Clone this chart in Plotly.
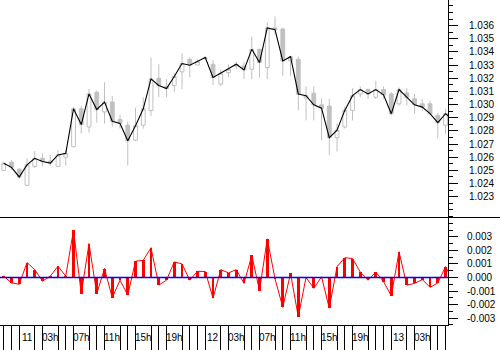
import plotly.graph_objects as go
import pandas as pd

# ---------------- data (hourly bars) ----------------
start_time = "2005-01-10 21:00"
opens = [1.02500, 1.02562, 1.02509, 1.02387, 1.02530, 1.02592, 1.02571, 1.02530, 1.02600, 1.02680,
         1.02968, 1.02830, 1.03094, 1.02944, 1.03020, 1.02886, 1.02843, 1.02730, 1.02843, 1.02955,
         1.03200, 1.03139, 1.03144, 1.03249, 1.03344, 1.03301, 1.03350, 1.03307, 1.03156, 1.03244,
         1.03294, 1.03294, 1.03269, 1.03420, 1.03282, 1.03583, 1.03575, 1.03332, 1.03344, 1.03050,
         1.03086, 1.02998, 1.02989, 1.02748, 1.02830, 1.02956, 1.03081, 1.03114, 1.03056, 1.03114,
         1.03081, 1.03006, 1.03089, 1.03044, 1.03006, 1.03006, 1.02918, 1.02843, 1.02931]
highs = [1.02560, 1.02577, 1.02515, 1.02592, 1.02647, 1.02630, 1.02617, 1.02655, 1.02655, 1.02981,
         1.02989, 1.03119, 1.03106, 1.03169, 1.03064, 1.02923, 1.02871, 1.02976, 1.03056, 1.03357,
         1.03307, 1.03194, 1.03239, 1.03390, 1.03357, 1.03344, 1.03369, 1.03339, 1.03269, 1.03307,
         1.03329, 1.03322, 1.03515, 1.03425, 1.03625, 1.03670, 1.03585, 1.03369, 1.03367, 1.03139,
         1.03139, 1.03044, 1.03044, 1.02856, 1.02983, 1.03124, 1.03139, 1.03124, 1.03181, 1.03139,
         1.03094, 1.03131, 1.03124, 1.03081, 1.03044, 1.03028, 1.02938, 1.02968, 1.02950]
lows = [1.02495, 1.02502, 1.02434, 1.02380, 1.02517, 1.02532, 1.02532, 1.02525, 1.02537, 1.02675,
        1.02780, 1.02788, 1.02863, 1.02856, 1.02831, 1.02818, 1.02537, 1.02720, 1.02818, 1.02913,
        1.03056, 1.03058, 1.03094, 1.03119, 1.03207, 1.03301, 1.03344, 1.03149, 1.03140, 1.03207,
        1.03269, 1.03194, 1.03194, 1.03207, 1.03194, 1.03532, 1.03219, 1.03219, 1.02956, 1.02880,
        1.02880, 1.02730, 1.02617, 1.02643, 1.02818, 1.02880, 1.03056, 1.03044, 1.03044, 1.03044,
        1.02918, 1.02993, 1.02993, 1.02931, 1.02953, 1.02923, 1.02743, 1.02780, 1.02850]
closes = [1.02555, 1.02523, 1.02450, 1.02542, 1.02592, 1.02568, 1.02555, 1.02617, 1.02630, 1.02968,
          1.02848, 1.03081, 1.02963, 1.03019, 1.02873, 1.02856, 1.02725, 1.02840, 1.02968, 1.03195,
          1.03145, 1.03122, 1.03214, 1.03312, 1.03299, 1.03327, 1.03357, 1.03207, 1.03239, 1.03269,
          1.03307, 1.03264, 1.03420, 1.03320, 1.03583, 1.03570, 1.03332, 1.03364, 1.03081, 1.03068,
          1.02998, 1.02973, 1.02748, 1.02805, 1.02956, 1.03068, 1.03114, 1.03081, 1.03114, 1.03074,
          1.02931, 1.03114, 1.03056, 1.02998, 1.02981, 1.02931, 1.02863, 1.02931, 1.02880]
momentum = [0.0001, -0.0004, -0.0005, 0.0011, 0.00058, -0.00027, 0.0001, 0.00083, 0.0001, 0.0035,
            -0.0012, 0.0025, -0.0012, 0.00066, -0.0015, -0.0002, -0.0013, 0.0012, 0.00127, 0.0022,
            -0.00056, -0.0002, 0.00115, 0.0010, -0.0002, 0.00046, 0.00044, -0.00153, 0.00058, 0.00034,
            0.00058, -0.00044, 0.00163, -0.00097, 0.00285, -0.0001, -0.0022, 0.0003, -0.0029, 0.0,
            -0.0008, 0.00005, -0.00226, 0.0008, 0.00146, 0.0014, 0.0004, -0.0002, 0.0004, -0.0003,
            -0.00136, 0.0019, -0.00056, -0.00044, -0.00015, -0.00073, -0.0004, 0.0008, -0.0003]

price_ticks = [1.023, 1.024, 1.025, 1.026, 1.027, 1.028, 1.029, 1.030, 1.031, 1.032, 1.033, 1.034, 1.035, 1.036]
price_labels = [f"{v:.3f}" for v in price_ticks]
mom_ticks = [-0.003, -0.002, -0.001, 0.0, 0.001, 0.002, 0.003]
mom_labels = ["-0.003", "-0.002", "-0.001", "0.000", "0.001", "0.002", "0.003"]

label_times = ["2005-01-11 00:00", "2005-01-11 03:00", "2005-01-11 07:00", "2005-01-11 11:00",
               "2005-01-11 15:00", "2005-01-11 19:00", "2005-01-12 00:00", "2005-01-12 03:00",
               "2005-01-12 07:00", "2005-01-12 11:00", "2005-01-12 15:00", "2005-01-12 19:00",
               "2005-01-13 00:00", "2005-01-13 03:00"]
label_texts = ["11", "03h", "07h", "11h", "15h", "19h", "12", "03h", "07h", "11h", "15h", "19h", "13", "03h"]

x_range = ["2005-01-10 20:31", "2005-01-13 06:19"]
price_range = [1.02142, 1.03795]
mom_range = [-0.003526, 0.00443]

# ---------------- figure ----------------
times = pd.date_range(start_time, periods=len(closes), freq="h")
hour_ticks = pd.date_range("2005-01-10 20:00", "2005-01-13 07:00", freq="h")
label_idx = pd.to_datetime(label_times)
label_set = set(label_idx)
plain_ticks = [t for t in hour_ticks if t not in label_set]

GREY = "#c0c0c0"
FONT = dict(family="Liberation Sans, Arial, sans-serif", size=10, color="black")

fig = go.Figure()
fig.add_trace(go.Candlestick(
    x=times, open=opens, high=highs, low=lows, close=closes,
    increasing=dict(line=dict(color=GREY, width=1), fillcolor="white"),
    decreasing=dict(line=dict(color=GREY, width=1), fillcolor=GREY),
    whiskerwidth=0, xaxis="x", yaxis="y", showlegend=False, hoverinfo="skip"))
fig.add_trace(go.Scatter(x=times, y=closes, mode="lines", line=dict(color="black", width=1.1),
                         xaxis="x", yaxis="y", showlegend=False, hoverinfo="skip"))
fig.add_trace(go.Bar(x=times, y=momentum, width=0.36 * 3600 * 1000, marker=dict(color="red", line=dict(width=0)),
                     xaxis="x", yaxis="y2", showlegend=False, hoverinfo="skip"))
fig.add_trace(go.Scatter(x=times, y=momentum, mode="lines", line=dict(color="red", width=1),
                         xaxis="x", yaxis="y2", showlegend=False, hoverinfo="skip"))

top_lo = 130 / 350
bot_lo = 21 / 350
xdom = 448 / 500

annotations = [dict(x=t, y=(350 - 341.5) / 350, xref="x", yref="paper", text=s, showarrow=False,
                    xanchor="center", yanchor="middle", font=FONT)
               for t, s in zip(label_times, label_texts)]

fig.update_layout(
    width=500, height=350, margin=dict(l=0, r=0, t=0, b=0),
    paper_bgcolor="white", plot_bgcolor="white", font=FONT,
    xaxis=dict(domain=[0, xdom], anchor="y2", range=x_range, type="date",
               rangeslider=dict(visible=False), showgrid=False, zeroline=False,
               showline=True, linecolor="black", linewidth=1,
               tickmode="array", tickvals=plain_ticks, ticks="outside", ticklen=25,
               tickcolor="black", tickwidth=1, showticklabels=False),
    yaxis=dict(domain=[top_lo, 1], range=price_range, side="right", anchor="x",
               showgrid=False, zeroline=False, showline=True, linecolor="black", linewidth=1,
               tickmode="array", tickvals=price_ticks, ticktext=price_labels,
               ticks="outside", ticklen=9, tickcolor="black", tickwidth=1, ticklabelstandoff=9,
               minor=dict(dtick=0.0005, ticks="outside", ticklen=4, tickcolor="black", tickwidth=1)),
    yaxis2=dict(domain=[bot_lo, top_lo], range=mom_range, side="right", anchor="x",
                showgrid=False, zeroline=False, showline=True, linecolor="black", linewidth=1,
                tickmode="array", tickvals=mom_ticks, ticktext=mom_labels,
                ticks="outside", ticklen=9, tickcolor="black", tickwidth=1, ticklabelstandoff=7,
                minor=dict(dtick=0.0005, ticks="outside", ticklen=4, tickcolor="black", tickwidth=1)),
    shapes=[
        dict(type="line", xref="paper", yref="paper", x0=0, x1=1, y0=top_lo, y1=top_lo,
             line=dict(color="black", width=1)),
        dict(type="line", xref="paper", yref="y2", x0=0, x1=xdom, y0=0, y1=0,
             line=dict(color="blue", width=1.5), layer="above"),
    ],
    annotations=annotations,
    bargap=0,
)

fig.write_html("out.html", config={"displayModeBar": False, "staticPlot": True},
               post_script="document.body.style.margin='0';document.body.style.overflow='hidden';")
